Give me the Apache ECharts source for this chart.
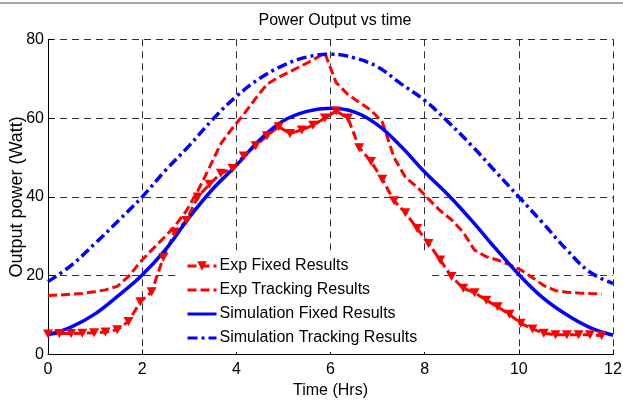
<!DOCTYPE html>
<html>
<head>
<meta charset="utf-8">
<script src="https://cdn.jsdelivr.net/npm/echarts@6/dist/echarts.min.js"></script>
<style>
  html, body { margin: 0; padding: 0; background: #fff; }
  #chart { width: 623px; height: 403px; }
</style>
</head>
<body>
<div id="chart"></div>
<script>
// Measurement times (hours after start) for the experimental runs
const hours = [0, 0.24, 0.49, 0.73, 0.98, 1.22, 1.47, 1.71, 1.96, 2.2, 2.45, 2.69, 2.94, 3.18, 3.43, 3.67, 3.92,
  4.16, 4.41, 4.65, 4.9, 5.14, 5.39, 5.63, 5.88, 6.12, 6.37, 6.61, 6.86, 7.1, 7.35, 7.59, 7.84, 8.08, 8.33,
  8.57, 8.82, 9.06, 9.31, 9.55, 9.8, 10.04, 10.29, 10.53, 10.78, 11.02, 11.27, 11.51, 11.76];

// Measured output power (W)
const expFixed = [5.2, 5.3, 5.3, 5.4, 5.5, 5.7, 6.3, 8.4, 13.4, 15.9, 24.6, 31, 34, 40, 43.2, 46, 47.2,
  50.4, 53, 55.5, 57.8, 56.1, 57, 58.2, 60, 61.8, 60, 52.5, 49, 44.5, 39, 36, 32, 28.2, 24,
  19.8, 16.8, 15.7, 13.8, 12.1, 10.2, 7.9, 6.5, 5.4, 5.0, 5.0, 5.0, 5.0, 4.8];
const expTracking = [15, 15.1, 15.3, 15.5, 15.9, 16.4, 17.3, 19.8, 23.5, 26.5, 29.5, 32.5, 36.5, 41.5, 47.5, 53.5, 57.5,
  61, 65, 68.6, 70.4, 71.8, 73.3, 74.8, 76.5, 69, 66, 64, 62, 59, 50, 45, 42.5, 39.5, 36.5,
  34.2, 31, 26.5, 24.8, 24, 22.8, 21.5, 19.5, 17.5, 16.2, 15.8, 15.6, 15.5, 15.4];

// Simulated output power (W), every half hour
const simHours = [0, 0.5, 1, 1.5, 2, 2.5, 3, 3.5, 4, 4.5, 5, 5.5, 6, 6.5, 7, 7.5, 8, 8.5, 9, 9.5, 10, 10.5, 11, 11.5, 12];
const simFixed = [5.0, 7.0, 10.3, 15, 20.2, 26.7, 34.8, 42, 48, 54.5, 59.3, 61.7, 62.5, 61.6, 58.3, 52.8,
  46.3, 40.5, 34, 27, 20.3, 14.5, 10.2, 6.9, 4.9];
const simTracking = [18.5, 22.7, 28.2, 34, 40, 46.8, 53, 59.7, 65.5, 70.1, 73.4, 75.5, 76.2, 75.3, 73, 68.7,
  64.5, 59, 53, 46.5, 40, 33.5, 26.8, 21, 18];

const seriesNames = ['Exp Fixed Results', 'Exp Tracking Results', 'Simulation Fixed Results', 'Simulation Tracking Results'];
const xTicks = { min: 0, max: 12, step: 2 };
const yTicks = { min: 0, max: 80, step: 20 };

const pairs = (xs, ys) => xs.map((x, i) => [x, ys[i]]);

const FONT = "'Liberation Sans', Arial, Helvetica, sans-serif";
const RED = '#ff0000';
const BLUE = '#0000ff';
const gridLine = { show: true, lineStyle: { color: '#333', width: 1, type: [7, 5] } };

// legend entries: only the first one carries a marker next to its line sample
const legendItems = seriesNames.map((name, i) =>
  i === 0 ? { name } : { name, itemStyle: { opacity: 0 } });

const chart = echarts.init(document.getElementById('chart'), null, { renderer: 'canvas' });

chart.setOption({
  backgroundColor: '#ffffff',
  animation: false,
  title: {
    text: 'Power Output vs time',
    left: 330, top: 8, textAlign: 'center',
    textStyle: { fontFamily: FONT, fontSize: 16, fontWeight: 'normal', color: '#000' }
  },
  graphic: [{
    type: 'rect', shape: { x: 0, y: 2, width: 623, height: 2 },
    style: { fill: '#a8a8a8' }, silent: true
  }],
  grid: { left: 48, right: 10, top: 39.3, bottom: 48.5, containLabel: false, outerBoundsMode: 'none' },
  legend: {
    orient: 'vertical',
    left: 178, top: 253,
    backgroundColor: '#ffffff',
    padding: [5, 12, 6, 8],
    itemWidth: 29, itemHeight: 12,
    itemGap: 8,
    data: legendItems,
    lineStyle: { width: 3 },
    textStyle: { fontFamily: FONT, fontSize: 16, color: '#000', padding: [0, 0, 0, -2] }
  },
  xAxis: {
    type: 'value',
    min: xTicks.min, max: xTicks.max, interval: xTicks.step,
    name: 'Time (Hrs)', nameLocation: 'middle', nameGap: 28, nameMoveOverlap: false,
    nameTextStyle: { fontFamily: FONT, fontSize: 16, color: '#000' },
    axisLine: { show: true, onZero: false, lineStyle: { color: '#000', width: 1 } },
    axisTick: { show: true, inside: true, length: 5, lineStyle: { color: '#000' } },
    axisLabel: { margin: 7, fontFamily: FONT, fontSize: 16, color: '#000' },
    splitLine: gridLine
  },
  yAxis: {
    type: 'value',
    min: yTicks.min, max: yTicks.max, interval: yTicks.step,
    name: 'Output power (Watt)', nameLocation: 'middle', nameGap: 22, nameMoveOverlap: false,
    nameTextStyle: { fontFamily: FONT, fontSize: 18, color: '#000' },
    axisLine: { show: true, onZero: false, lineStyle: { color: '#000', width: 1 } },
    axisTick: { show: true, inside: true, length: 5, lineStyle: { color: '#000' } },
    axisLabel: { margin: 4, fontFamily: FONT, fontSize: 16, color: '#000' },
    splitLine: gridLine
  },
  series: [
    {
      name: seriesNames[0], type: 'line',
      data: pairs(hours, expFixed),
      symbol: 'triangle', symbolRotate: 180, symbolSize: [10, 9], showSymbol: true, showAllSymbol: true,
      itemStyle: { color: RED },
      lineStyle: { color: RED, width: 3, type: [9, 4] }
    },
    {
      name: seriesNames[1], type: 'line',
      data: pairs(hours, expTracking),
      symbol: 'none',
      itemStyle: { color: RED },
      lineStyle: { color: RED, width: 3, type: [9, 4] }
    },
    {
      name: seriesNames[2], type: 'line',
      data: pairs(simHours, simFixed),
      symbol: 'none', smooth: 0.4,
      itemStyle: { color: BLUE },
      lineStyle: { color: BLUE, width: 3.5, type: 'solid' }
    },
    {
      name: seriesNames[3], type: 'line',
      data: pairs(simHours, simTracking),
      symbol: 'none', smooth: 0.4,
      itemStyle: { color: BLUE },
      lineStyle: { color: BLUE, width: 3.5, type: [10, 4, 3, 4] }
    }
  ]
});
</script>
</body>
</html>
